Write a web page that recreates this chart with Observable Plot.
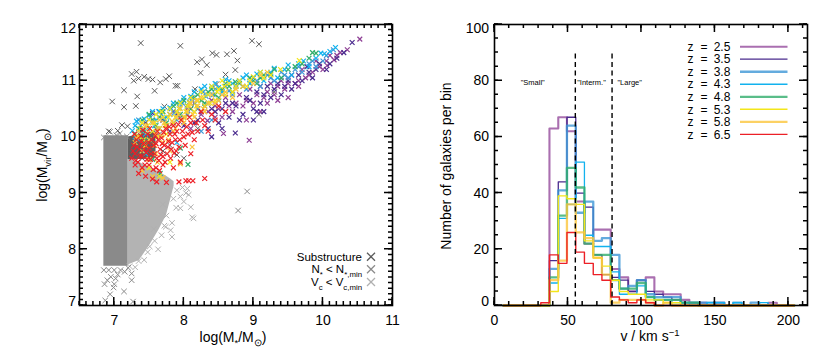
<!DOCTYPE html>
<html><head><meta charset="utf-8">
<script src="https://cdn.jsdelivr.net/npm/d3@7"></script>
<script src="https://cdn.jsdelivr.net/npm/@observablehq/plot@0.6"></script>
<style>
body{margin:0;background:#fff;width:830px;height:356px;position:relative;overflow:hidden}
#left,#right{position:absolute;top:0;width:415px;height:356px}
#left{left:0}#right{left:415px}
#left svg,#right svg{max-width:none!important}
</style></head><body><div id="left"></div><div id="right"></div>
<script>
// ================= DATA =================
// ---- left panel: log(M*/Msun) vs log(Mvir/Msun) ----
const xTicksL = [7, 8, 9, 10, 11];
const yTicksL = [7, 8, 9, 10, 11, 12];
// dense N* < N*,min block (extent)
const blockX = [6.85, 7.2];
const blockLo = [7.7, 7.7];
const blockHi = [10.02, 10.02];
// dense Vc < Vc,min wedge
const wedgeX = [7.2, 7.36, 7.5, 7.64, 7.75, 7.81, 7.86];
const wedgeLo = [7.72, 7.8, 8.05, 8.34, 8.6, 8.88, 9.12];
const wedgeHi = [9.62, 9.55, 9.45, 9.38, 9.3, 9.25, 9.2];
// dense substructure region under the coloured points
const subAreaX = [7.2, 7.4, 7.6];
const subAreaLo = [9.6, 9.6, 9.62];
const subAreaHi = [10.0, 10.05, 10.1];
// scattered substructure points
const subPts = [[7.38,11.67],[7.95,11.62],[8.98,11.71],[9.08,11.65],[8.41,11.49],[8.47,11.46],[8.62,11.47],[8.72,11.53],[8.19,11.33],[8.26,11.38],[8.33,11.28],[8.77,11.36],[8.24,11.14],[8.6,11.11],[8.74,11.19],[7.25,11.12],[7.32,11.16],[7.28,11.0],[7.35,11.04],[7.43,11.07],[7.49,11.03],[7.55,11.02],[7.66,10.97],[7.74,11.03],[7.79,11.08],[7.88,10.91],[7.91,10.91],[7.58,10.82],[8.16,10.85],[7.14,10.83],[7.33,10.72],[6.97,10.63],[7.14,10.53],[7.31,10.55],[7.72,10.54],[7.11,10.21],[7.19,10.19],[6.92,10.1],[7.05,10.11],[9.08,10.4],[8.0,9.62],[8.47,10.94],[8.1,10.6],[7.65,10.05],[7.8,9.85],[8.2,10.15],[8.6,10.45],[9.3,10.8],[7.25,9.7],[7.3,9.9],[7.4,9.62],[7.7,9.75],[7.9,9.68]];
// scattered N* < N*,min points
const nminPts = [[6.86,7.38],[6.95,7.51],[7.02,7.48],[6.94,7.2],[7.0,7.38],[6.99,7.32],[7.14,7.25],[7.25,7.57],[7.25,7.45],[6.87,7.09],[7.27,7.07],[6.85,7.63],[6.92,7.63],[7.0,7.63],[7.09,7.63],[7.15,7.6],[6.85,9.99],[6.94,10.09],[7.08,10.06],[7.03,10.03],[7.18,10.01],[8.91,9.03],[8.78,8.69],[7.05,7.55],[6.9,7.45],[7.2,7.67]];
// scattered Vc < Vc,min points
const vminPts = [[7.89,8.74],[7.95,8.94],[8.1,8.75],[8.14,8.55],[7.81,8.34],[7.83,8.22],[7.74,8.4],[7.63,8.0],[7.51,8.05],[7.43,7.81],[7.35,7.79],[7.57,8.36],[8.03,9.0],[8.07,8.97],[8.12,8.57],[7.95,8.73],[7.83,8.47],[7.72,8.42],[7.98,9.1],[8.05,9.08],[7.9,9.05],[7.75,8.6],[7.68,8.25],[7.58,8.15],[7.48,7.95],[7.3,7.68],[7.22,7.7],[7.85,8.9],[8.0,8.85],[7.7,8.8]];
// galaxies by redshift
const gal25 = [[7.7,10.3],[7.85,10.45],[8.0,10.35],[8.15,10.6],[8.25,10.4],[8.34,10.29],[8.4,10.65],[8.5,10.5],[8.57,10.06],[8.6,10.7],[8.7,10.45],[8.8,10.75],[8.85,10.55],[8.94,9.94],[8.95,10.85],[9.0,10.6],[9.1,10.9],[9.15,10.7],[9.25,10.95],[9.3,10.75],[9.4,11.0],[9.45,10.85],[9.55,11.1],[9.6,10.95],[9.7,11.2],[9.75,11.05],[9.85,11.15],[9.9,11.35],[10.0,11.2],[10.06,11.27],[10.1,11.45],[10.16,11.37],[10.25,11.5],[10.53,11.74],[8.1,10.15],[8.9,10.3],[9.2,10.6],[9.65,10.9],[8.45,10.35],[9.35,10.65],
  [8.05,10.5],[8.2,10.5],[8.35,10.45],[8.45,10.55],[8.55,10.35],[8.65,10.55],[8.75,10.6],[8.9,10.65],[9.05,10.75],[9.2,10.8],[9.35,10.9],[9.5,10.95],[9.65,11.0],[9.8,11.1],[9.95,11.25],[10.05,11.35],[10.2,11.45],[10.35,11.55],[9.1,10.45],[9.5,10.7]];
const gal35 = [[7.45,10.25],[7.55,10.42],[7.6,10.0],[7.7,10.3],[7.8,10.1],[7.9,10.4],[8.0,10.2],[8.1,10.5],[8.2,10.3],[8.3,10.55],[8.35,10.15],[8.45,10.45],[8.5,10.25],[8.6,10.6],[8.65,10.35],[8.74,10.07],[8.75,10.55],[8.85,10.4],[8.9,10.7],[9.0,10.5],[9.05,10.8],[9.1,10.6],[9.2,10.9],[9.25,10.7],[9.35,10.95],[9.4,10.75],[9.5,11.0],[9.55,10.85],[9.65,11.1],[9.77,11.25],[9.85,11.05],[9.95,11.3],[10.05,11.2],[10.2,11.4],[10.42,11.68],[8.4,10.0],[9.0,10.3],[8.55,10.15],[9.15,10.45],
  [7.65,10.15],[7.85,10.25],[7.95,10.35],[8.05,10.4],[8.15,10.25],[8.25,10.45],[8.4,10.5],[8.55,10.5],[8.7,10.6],[8.8,10.3],[8.95,10.65],[9.05,10.45],[9.15,10.75],[9.3,10.85],[9.45,10.9],[9.6,10.95],[9.7,11.0],[9.8,11.15],[9.9,11.2],[10.1,11.3],[10.3,11.5]];
const gal38 = [[7.3,10.0],[7.38,10.2],[7.45,10.05],[7.52,10.35],[7.6,10.15],[7.68,10.4],[7.75,10.2],[7.82,10.5],[7.9,10.3],[7.98,10.6],[8.05,10.4],[8.12,10.7],[8.2,10.5],[8.28,10.8],[8.35,10.6],[8.45,10.85],[8.5,10.65],[8.6,10.9],[8.7,10.75],[8.8,11.0],[8.9,10.85],[9.0,11.05],[9.1,10.9],[9.2,11.1],[9.3,11.0],[9.4,11.15],[9.5,11.05],[9.6,11.2],[9.7,11.15],[9.8,11.3],[9.9,11.25],[10.05,11.45],[10.15,11.55],[8.25,10.1],[8.4,10.3],
  [7.35,10.3],[7.42,10.12],[7.56,10.28],[7.64,10.45],[7.72,10.32],[7.86,10.42],[7.94,10.52],[8.08,10.62],[8.16,10.6],[8.32,10.72],[8.42,10.75],[8.55,10.8],[8.65,10.82],[8.75,10.92],[8.95,10.95],[9.05,11.0],[9.25,11.05],[9.45,11.1],[9.65,11.25],[9.85,11.35],[10.0,11.35]];
const gal43 = [[7.26,10.11],[7.3,10.2],[7.35,9.95],[7.43,10.32],[7.48,10.15],[7.55,10.45],[7.6,10.3],[7.7,10.5],[7.75,10.35],[7.85,10.6],[7.9,10.45],[8.0,10.7],[8.05,10.55],[8.15,10.8],[8.2,10.65],[8.3,10.9],[8.35,10.75],[8.45,10.95],[8.55,10.8],[8.65,11.0],[8.75,10.9],[8.85,11.05],[8.95,10.95],[9.05,11.12],[9.15,11.0],[9.25,11.15],[9.35,11.05],[9.45,11.2],[9.55,11.1],[9.72,11.35],[9.8,11.25],[9.97,11.49],[10.02,11.48],[10.18,11.59],[7.45,9.7],[7.9,9.9],
  [7.32,10.28],[7.38,10.1],[7.5,10.38],[7.58,10.2],[7.65,10.45],[7.8,10.52],[7.95,10.62],[8.1,10.72],[8.25,10.85],[8.4,10.9],[8.5,10.88],[8.6,11.02],[8.7,10.95],[8.9,11.1],[9.1,11.15],[9.3,11.22],[9.5,11.28],[9.65,11.3],[9.9,11.4],[10.1,11.52]];
const gal48 = [[7.3,10.05],[7.4,10.3],[7.45,9.95],[7.5,10.4],[7.6,10.2],[7.7,10.45],[7.75,10.25],[7.85,10.55],[7.95,10.4],[8.0,10.65],[8.1,10.5],[8.2,10.75],[8.3,10.6],[8.4,10.85],[8.5,10.7],[8.6,10.95],[8.7,10.8],[8.74,10.98],[8.85,10.9],[8.95,11.05],[9.05,10.95],[9.15,11.1],[9.25,11.12],[9.4,11.05],[9.5,11.2],[9.7,11.3],[9.9,11.49],[9.85,11.5],[7.66,9.35],[8.06,9.51],[7.55,9.6],[7.95,9.8],
  [7.35,10.15],[7.42,10.1],[7.55,10.3],[7.65,10.35],[7.8,10.4],[7.9,10.6],[8.05,10.55],[8.15,10.7],[8.25,10.65],[8.35,10.8],[8.45,10.75],[8.55,10.85],[8.65,10.9],[8.8,10.95],[9.0,11.0],[9.1,11.05],[9.3,11.2],[9.6,11.25],[9.8,11.4]];
const gal53 = [[7.35,10.0],[7.4,10.25],[7.45,9.85],[7.5,10.3],[7.55,10.1],[7.6,10.4],[7.65,10.15],[7.7,10.35],[7.75,10.05],[7.8,10.5],[7.85,10.25],[7.9,10.45],[7.95,10.6],[8.0,10.35],[8.05,10.55],[8.1,10.7],[8.15,10.45],[8.2,10.65],[8.25,10.8],[8.3,10.55],[8.35,10.75],[8.4,10.9],[8.45,10.65],[8.5,10.85],[8.55,11.0],[8.6,10.75],[8.65,10.95],[8.7,10.8],[8.8,11.0],[8.9,10.9],[9.0,11.07],[9.15,11.05],[9.39,11.2],[9.66,11.36],[7.5,9.45],[7.65,9.3],[7.8,9.55],
  [7.38,10.15],[7.42,9.95],[7.48,10.2],[7.58,10.25],[7.62,10.0],[7.68,10.45],[7.73,10.2],[7.78,10.35],[7.88,10.35],[7.93,10.5],[8.03,10.45],[8.08,10.6],[8.18,10.55],[8.28,10.7],[8.38,10.6],[8.48,10.8],[8.58,10.9],[8.75,10.9],[8.95,11.0],[9.1,11.15],[9.25,11.1]];
const gal58 = [[7.3,9.9],[7.35,10.1],[7.4,9.75],[7.45,10.2],[7.5,9.95],[7.55,10.25],[7.6,10.05],[7.65,10.3],[7.7,9.9],[7.75,10.2],[7.8,10.4],[7.85,10.1],[7.9,10.35],[7.95,10.5],[8.0,10.25],[8.05,10.45],[8.1,10.6],[8.15,10.35],[8.2,10.55],[8.25,10.7],[8.3,10.45],[8.35,10.6],[8.4,10.75],[8.5,10.65],[8.6,10.8],[8.7,10.7],[8.85,10.9],[9.0,10.95],[9.1,11.1],[9.2,11.15],[7.4,9.4],[7.55,9.3],[7.7,9.27],[7.95,9.52],[8.12,9.82],[7.62,9.55],[7.5,9.6],
  [7.32,10.0],[7.42,9.88],[7.48,10.1],[7.58,9.85],[7.62,10.15],[7.68,10.02],[7.72,10.25],[7.78,9.95],[7.83,10.28],[7.88,10.15],[7.92,10.4],[7.98,10.3],[8.03,10.35],[8.08,10.55],[8.13,10.4],[8.18,10.65],[8.28,10.5],[8.45,10.6],[8.55,10.75],[8.75,10.85],[7.6,9.7],[7.8,9.75]];
const gal65 = [[7.25,9.62],[7.28,9.85],[7.3,9.7],[7.32,9.95],[7.34,9.55],[7.36,9.78],[7.38,10.02],[7.4,9.65],[7.42,9.88],[7.44,9.5],[7.46,9.72],[7.48,10.05],[7.5,9.8],[7.52,9.6],[7.54,9.95],[7.56,9.42],[7.58,9.7],[7.6,9.88],[7.62,10.1],[7.64,9.58],[7.66,9.78],[7.68,9.98],[7.7,9.65],[7.72,9.85],[7.74,10.15],[7.76,9.7],[7.78,9.92],[7.8,10.05],[7.82,9.78],[7.85,10.2],[7.88,9.95],[7.9,10.1],[7.93,9.82],[7.96,10.3],[8.0,10.0],[8.04,10.18],[8.08,10.35],[8.12,10.08],[8.18,10.25],[8.25,10.45],[8.3,10.2],[8.4,10.4],[8.5,10.55],[7.35,9.35],[7.45,9.3],[7.55,9.25],[7.61,9.2],[7.75,9.19],[7.93,9.2],[8.03,9.22],[8.07,9.22],[8.13,9.22],[8.3,9.26],[7.65,9.4],[7.85,9.45],[7.7,9.5],[8.1,9.7],[7.95,9.55],[7.86,9.71],
  [7.27,9.75],[7.29,10.05],[7.31,9.58],[7.33,9.82],[7.37,9.66],[7.39,9.92],[7.41,10.12],[7.43,9.78],[7.47,9.6],[7.49,9.9],[7.51,10.15],[7.53,9.7],[7.57,9.85],[7.59,10.02],[7.61,9.62],[7.63,9.95],[7.67,9.68],[7.69,9.88],[7.71,10.08],[7.73,9.55],[7.77,9.82],[7.79,10.18],[7.81,9.62],[7.83,9.9],[7.87,10.05],[7.89,9.75],[7.92,10.22],[7.94,9.95],[7.98,10.1],[8.02,9.85],[8.06,10.05],[8.1,10.25],[8.15,9.95],[8.2,10.1],[8.27,10.3],[8.35,10.1],[8.45,10.3],[8.6,10.45],[7.5,9.5],[7.6,9.45],[7.4,9.45],[7.3,9.5]];

// ---- right panel: histograms of v ----
const xTicksR = [0, 50, 100, 150, 200];
const yTicksR = [0, 20, 40, 60, 80, 100];
const binEdges = [31.5,37.4,43.4,49.3,55.3,61.2,67.2,73.1,79.1,85.0,91.0,96.9,102.9,108.8,114.8,120.7,126.7,132.6,138.6,144.5,150.5,156.4,162.4,168.3,174.3,180.2,186.2,192.1,198.1,204.0];
const histStart = 6;
const n25 = [0,63,67,62,37,22,27,27,13,10,5,9,10,5,4,4,2,1,1,0,1,0,0,0,0,0,1,0,0];
const n35 = [0,16,44,67,40,35,18,11,10,9,5,9,5,4,3,2,1,1,0,0,0,0,0,0,0,0,0,0,0];
const n38 = [0,13,41,64,33,37,23,24,18,6,7,9,4,3,3,3,1,1,1,1,1,0,1,0,1,0,0,0,0];
const n43 = [0,8,31,36,51,25,21,21,12,4,4,7,3,2,2,1,1,0,0,1,1,0,1,0,0,1,0,0,0];
const n48 = [0,10,32,49,42,22,18,18,9,6,6,8,3,2,2,2,1,1,0,0,0,0,0,0,0,0,0,0,0];
const n53 = [0,5,39,38,36,23,17,14,9,5,4,4,2,2,1,1,0,0,0,0,0,0,0,0,0,0,0,0,0];
const n58 = [0,9,16,36,26,24,17,11,1,2,2,2,1,0,1,0,0,0,0,0,0,0,0,0,0,0,0,0,0];
const n65 = [1,18,15,26,19,15,11,9,3,2,1,2,1,0,0,0,0,0,0,0,0,0,0,0,0,0,0,0,0];
const zLabels = ["2.5","3.5","3.8","4.3","4.8","5.3","5.8","6.5"];
const zColors = ["#8e3f95","#4a2b8e","#3d96d6","#12b2ee","#31ad6b","#f3e61a","#fbc53c","#ec2027"];
const dashX = [55, 80];
const regionNames = ['"Small"', '"Interm."', '"Large"'];
const regionX = [26, 66, 92];
const regionY = [79.5, 79.5, 79.5];

// ================= DRAWING =================
const font = "'Liberation Sans', Arial, Helvetica, sans-serif";
const common = {width: 415, height: 356, marginLeft: 79, marginRight: 23, marginTop: 24, marginBottom: 51,
  style: {fontFamily: font, background: "white", color: "black", overflow: "visible"}};

function tickLabels(xT, yT, yPad) {
  const inner = yT.slice(1, -1), lo = [yT[0]], hi = [yT[yT.length - 1]];
  const o = {tickSize: 0, label: null, fontSize: 14, tickFormat: d => String(d)};
  return [
    Plot.axisX(xT, {...o, anchor: "bottom", tickPadding: 10}),
    Plot.axisY(inner, {...o, anchor: "left", tickPadding: yPad}),
    Plot.axisY(lo, {...o, anchor: "left", tickPadding: yPad, dy: -4}),
    Plot.axisY(hi, {...o, anchor: "left", tickPadding: yPad, dy: 4.5})
  ];
}
const xy = {x: d => d[0], y: d => d[1]};
function cross(pts, color, r, sw) {
  return Plot.dot(pts, {...xy, symbol: "times", stroke: color, r, strokeWidth: sw});
}

// IDL-style inward ticks on all four sides, placed with the plot's own scales
function inwardTicks(plot, xMaj, xMin, yMaj, yMin) {
  const sx = plot.scale("x"), sy = plot.scale("y");
  const [xa, xb] = sx.range, [ya, yb] = sy.range; // ya = bottom, yb = top
  const g = d3.select(plot).append("g").attr("stroke", "#000").attr("stroke-width", 1.5).attr("fill", "none");
  const vx = (ticks, len) => ticks.forEach(t => {
    const px = sx.apply(t);
    g.append("path").attr("d", `M${px},${ya}V${ya - len}M${px},${yb}V${yb + len}`);
  });
  const vy = (ticks, len) => ticks.forEach(t => {
    const py = sy.apply(t);
    g.append("path").attr("d", `M${xa},${py}H${xa + len}M${xb},${py}H${xb - len}`);
  });
  vx(xMin, 4); vx(xMaj, 8); vy(yMin, 4); vy(yMaj, 8);
}

const xDomL = [6.5, 11], yDomL = [7, 12];
const minorL = d3.range(65, 111).map(v => v / 10);
const minorLy = d3.range(70, 121).map(v => v / 10);
const galSets = [gal25, gal35, gal38, gal43, gal48, gal53, gal58, gal65];

const left = Plot.plot({
  ...common,
  x: {domain: xDomL},
  y: {domain: yDomL},
  marks: [
    Plot.areaY(blockX, {x: blockX, y1: blockLo, y2: blockHi, fill: "#8a8a8a"}),
    Plot.areaY(wedgeX, {x: wedgeX, y1: wedgeLo, y2: wedgeHi, fill: "#b3b3b3"}),
    Plot.areaY(subAreaX, {x: subAreaX, y1: subAreaLo, y2: subAreaHi, fill: "#5e5e5e"}),
    cross(vminPts, "#b0b0b0", 2.6, 1),
    cross(nminPts, "#8a8a8a", 2.6, 1),
    cross(subPts, "#5a5a5a", 2.6, 1),
    ...galSets.map((g, i) => cross(g, zColors[i], 2.3, 1.2)),
    ...tickLabels(xTicksL, yTicksL, 3.5),
    Plot.frame({stroke: "black", strokeWidth: 1.6})
  ]
});

function steps(counts) {
  const pts = [{x: histStart, y: 0}];
  counts.forEach((c, i) => pts.push({x: binEdges[i], y: c}));
  pts.push({x: binEdges[binEdges.length - 1], y: 0});
  return pts;
}
const nSets = [n25, n35, n38, n43, n48, n53, n58, n65];
const zWidths = [2.1, 1.3, 2.3, 1.3, 2.3, 1.4, 2.3, 1.4];
const zOpac = [0.75, 1, 0.8, 1, 0.8, 1, 0.8, 1];
const xDomR = [0, 213], yDomR = [0, 100];
const minorRx = d3.range(0, 211, 10);
const minorRy = d3.range(0, 101, 5);

const right = Plot.plot({
  ...common,
  x: {domain: xDomR},
  y: {domain: yDomR},
  marks: [
    ...nSets.map((n, i) => Plot.line(steps(n), {x: "x", y: "y", curve: "step-after", stroke: zColors[i], strokeWidth: zWidths[i], strokeOpacity: zOpac[i]})),
    Plot.ruleX(dashX, {y1: 0, y2: 90, stroke: "black", strokeWidth: 1.4, strokeDasharray: "5,3.5"}),
    Plot.text(regionNames, {x: regionX, y: regionY, text: d => d, fontSize: 7.5, fill: "black"}),
    ...tickLabels(xTicksR, yTicksR, 5.5),
    Plot.frame({stroke: "black", strokeWidth: 1.6})
  ]
});

document.getElementById("left").appendChild(left);
document.getElementById("right").appendChild(right);
inwardTicks(left, xTicksL, minorL, yTicksL, minorLy);
inwardTicks(right, xTicksR, minorRx, yTicksR, minorRy);

// ---- titles with sub/superscripts ----
function rich(svg, x, y, parts, opts = {}) {
  const size = opts.size || 14;
  const t = d3.select(svg).append("text")
    .attr("x", x).attr("y", y).attr("text-anchor", opts.anchor || "middle")
    .attr("font-family", font).attr("font-size", size).attr("fill", "black");
  if (opts.rotate) t.attr("transform", `rotate(-90 ${x} ${y})`);
  let shift = 0;
  for (const [s, kind] of parts) {
    const ts = t.append("tspan").text(s);
    const target = kind === "sub" ? 3.5 : kind === "sup" ? -5 : 0;
    if (target !== shift) { ts.attr("dy", target - shift); shift = target; }
    if (kind) ts.attr("font-size", size * 0.68);
  }
  return t;
}
rich(left, 233, 342, [["log(M", null], ["*", "sub"], ["/M", null], ["⊙", "sub"], [")", null]]);
rich(left, 47, 165, [["log(M", null], ["vir", "sub"], ["/M", null], ["⊙", "sub"], [")", null]], {rotate: true});
rich(right, 235, 341, [["v / km s", null], ["−1", "sup"]]);
rich(right, 36, 166, [["Number of galaxies per bin", null]], {rotate: true});

// left legend (layout)
const legL = [
  {parts: [["Substructure", null]], color: "#5a5a5a", y: 256.7},
  {parts: [["N", null], ["*", "sub"], [" < N", null], ["*,min", "sub"]], color: "#8a8a8a", y: 269.3},
  {parts: [["V", null], ["c", "sub"], [" < V", null], ["c,min", "sub"]], color: "#b0b0b0", y: 282}
];
legL.forEach(l => {
  rich(left, 362, l.y + 4, l.parts, {size: 11.5, anchor: "end"});
  const g = d3.select(left).append("g").attr("stroke", l.color).attr("stroke-width", 1.3);
  g.append("line").attr("x1", 367).attr("x2", 375).attr("y1", l.y - 4).attr("y2", l.y + 4);
  g.append("line").attr("x1", 367).attr("x2", 375).attr("y1", l.y + 4).attr("y2", l.y - 4);
});

// right legend (layout)
const rs = d3.select(right);
zLabels.forEach((z, i) => {
  const y = 46.7 + i * 12.52;
  const txt = (x, s) => rs.append("text").attr("x", x).attr("y", y + 4.2).attr("text-anchor", "middle")
    .attr("font-family", font).attr("font-size", 12).attr("fill", "black").text(s);
  txt(275.5, "z"); txt(289, "="); txt(307, z);
  rs.append("line").attr("x1", 325).attr("x2", 372.5).attr("y1", y).attr("y2", y)
    .attr("stroke", zColors[i]).attr("stroke-width", zWidths[i]).attr("stroke-opacity", zOpac[i]);
});
</script>
</body></html>
